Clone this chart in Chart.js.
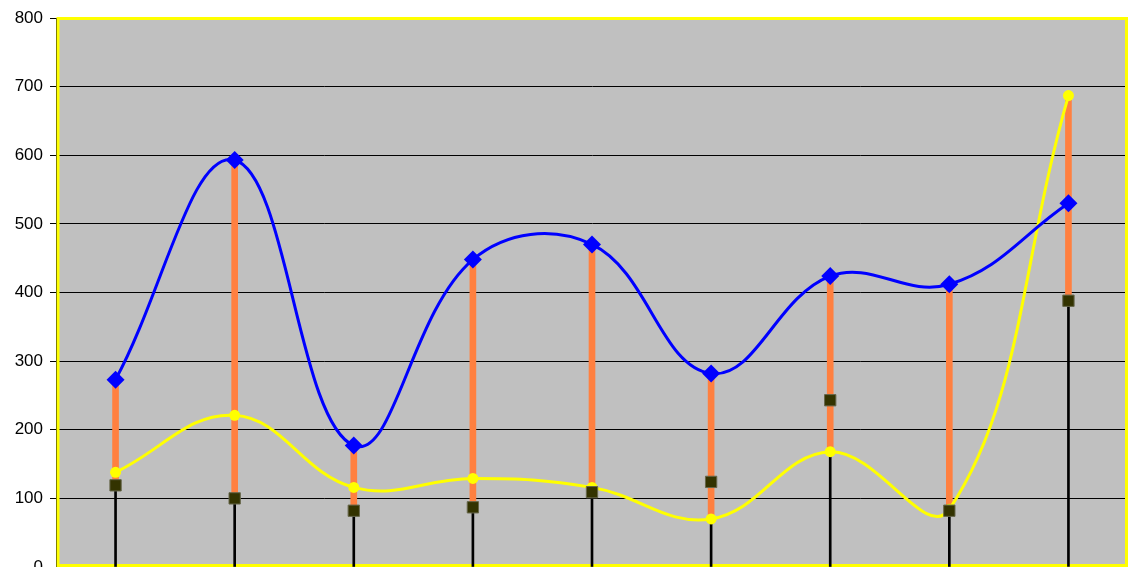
<!DOCTYPE html>
<html>
<head>
<meta charset="utf-8">
<script src="https://cdn.jsdelivr.net/npm/chart.js@4"></script>
<style>
  html, body { margin: 0; padding: 0; background: #ffffff; overflow: hidden; }
  canvas { display: block; }
</style>
</head>
<body>
<canvas id="chart0" width="1129" height="567" style="width:1129px;height:567px"></canvas>
<script>
var categories = ["1", "2", "3", "4", "5", "6", "7", "8", "9"];
var blueSeries = [273, 593, 177, 448, 470, 282, 424, 412, 530];
var yellowSeries = [138, 221, 116, 129, 116, 70, 168, 84, 687];
var squareSeries = [119, 100, 82, 87, 109, 124, 243, 82, 388];
var yTicks = [0, 100, 200, 300, 400, 500, 600, 700, 800];

// high-low lines and drop lines from the three series
var highLow = [];
var dropLines = [];
for (let i = 0; i < categories.length; i++) {
    var lo = Math.min(blueSeries[i], yellowSeries[i], squareSeries[i]);
    var hi = Math.max(blueSeries[i], yellowSeries[i], squareSeries[i]);
    highLow.push([lo, hi]);
    dropLines.push([0, lo]);
}

const plotBack = {
    id: 'plotBack',
    beforeDraw(chart) {
        const a = chart.chartArea, c = chart.ctx;
        c.save();
        c.fillStyle = '#C0C0C0';
        c.fillRect(a.left, a.top, a.right - a.left, a.bottom - a.top);
        c.restore();
    },
    beforeDatasetsDraw(chart) {
        const a = chart.chartArea, c = chart.ctx;
        c.save();
        c.strokeStyle = '#FFFF00';
        c.lineWidth = 3;
        c.strokeRect(a.left + 2, a.top + 0.5, a.right - a.left - 3.5, a.bottom - a.top - 2);
        c.restore();
    }
};

const ctx = document.getElementById("chart0").getContext("2d");
var chartId = new Chart(ctx, {
    data: {
        labels: categories,
        datasets: [{
            type: 'bar',
            data: dropLines,
            backgroundColor: '#000000',
            barThickness: 2,
            grouped: false,
            order: 4
        },
        {
            type: 'bar',
            data: highLow,
            backgroundColor: '#FF8040',
            barThickness: 6,
            grouped: false,
            order: 3
        },
        {
            type: 'line',
            data: yellowSeries,
            borderColor: '#FFFF00',
            backgroundColor: '#FFFF00',
            borderWidth: 3,
            tension: 0.4,
            pointStyle: 'circle',
            pointRadius: 5.5,
            pointBorderWidth: 0,
            order: 2
        },
        {
            type: 'line',
            data: blueSeries,
            borderColor: '#0000FF',
            backgroundColor: '#0000FF',
            borderWidth: 3,
            tension: 0.4,
            pointStyle: 'rectRot',
            pointRadius: 9,
            pointBorderWidth: 0,
            order: 1
        },
        {
            type: 'line',
            data: squareSeries,
            showLine: false,
            backgroundColor: '#333300',
            borderColor: '#66664a',
            pointStyle: 'rect',
            pointRadius: 8,
            pointBorderWidth: 1,
            order: 0
        }]
    },
    options: {
        responsive: false,
        animation: false,
        devicePixelRatio: 1,
        layout: {
            autoPadding: false,
            padding: { top: 18, right: 1, bottom: 0, left: 0 }
        },
        scales: {
            x: {
                display: false,
                offset: true
            },
            y: {
                min: 0,
                max: 800,
                afterBuildTicks: function (scale) {
                    scale.ticks = yTicks.map(v => ({ value: v }));
                },
                afterFit: function (scale) {
                    scale.width = 56;
                    scale.paddingTop = 0;
                    scale.paddingBottom = 0;
                },
                grid: {
                    color: '#000000',
                    lineWidth: 1,
                    drawTicks: true,
                    tickLength: 6
                },
                border: {
                    display: true,
                    color: '#000000',
                    width: 1
                },
                ticks: {
                    color: '#000000',
                    padding: 7,
                    font: { family: 'Liberation Sans, Arial, sans-serif', size: 17 }
                }
            }
        },
        plugins: {
            legend: { display: false },
            tooltip: { enabled: false }
        }
    },
    plugins: [plotBack]
});
</script>
</body>
</html>
